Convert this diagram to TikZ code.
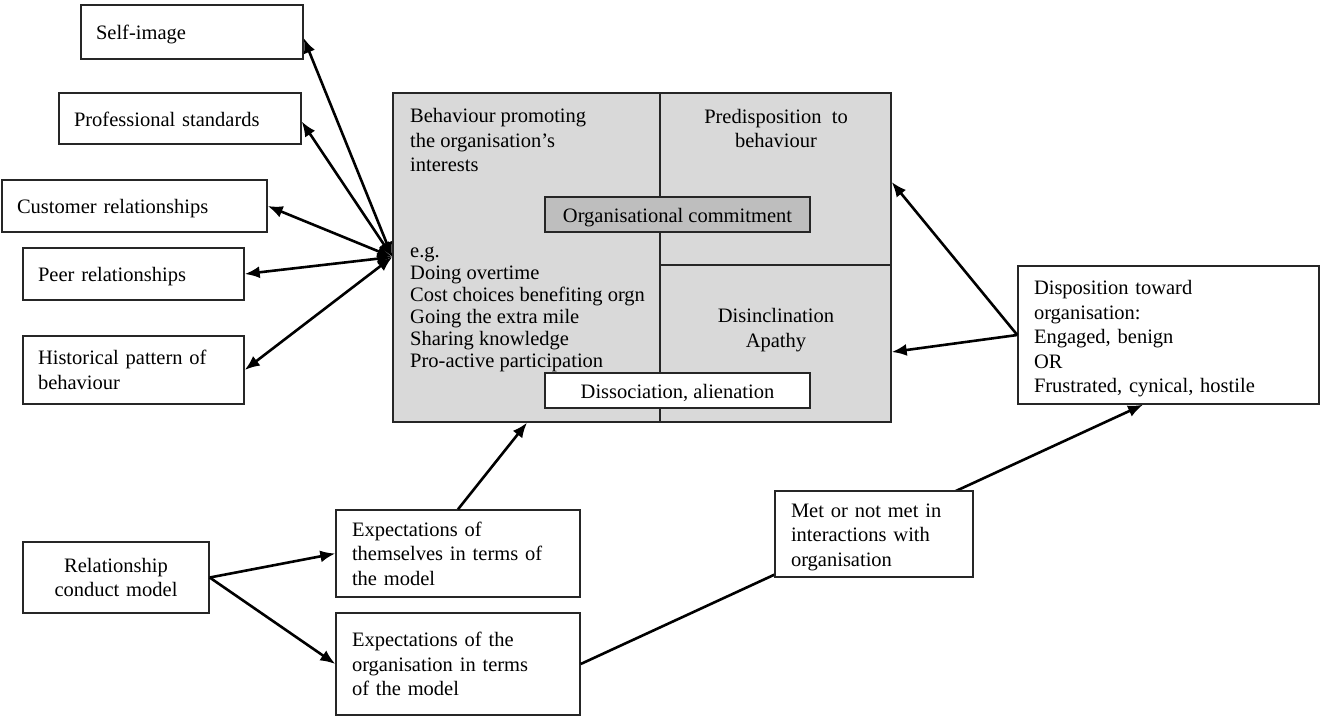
\documentclass[tikz,border=0pt]{standalone}
\usepackage{fontspec}
\setmainfont{Liberation Serif}
\usetikzlibrary{arrows.meta}
\definecolor{panelgray}{RGB}{217,217,217}
\definecolor{keygray}{RGB}{190,190,190}
\tikzset{
	every node/.style={font=\fontsize{20.5}{24.5}\selectfont},
	plainbox/.style={draw=black!85, line width=1.4pt, fill=white, inner xsep=15pt, inner ysep=0pt, align=left},
	oneline/.style={text height=17pt, text depth=2pt},
	flow/.style={line width=2.6pt, -{Latex[length=15pt,width=12pt]}},
	twoway/.style={line width=2.6pt, {Latex[length=15pt,width=12pt]}-{Latex[length=15pt,width=12pt]}},
}
\begin{document}
\begin{tikzpicture}[x=1pt,y=-1pt]
	\useasboundingbox (0,0) rectangle (1320,718);

	\node [plainbox, oneline, text width=192pt, minimum height=54pt] (selfimg) at (192,32) {Self-image};
	\node [plainbox, oneline, text width=212pt, minimum height=51pt] (prof) at (180,118.5) {Professional standards};
	\node [plainbox, oneline, text width=235pt, minimum height=52pt] (cust) at (134.5,206) {Customer relationships};
	\node [plainbox, oneline, text width=191pt, minimum height=52pt] (peer) at (133.5,274) {Peer relationships};
	\node [plainbox, text width=191pt, minimum height=68pt] (hist) at (133.5,370) {Historical pattern of\\behaviour};

	\node [draw=black!85, line width=1.4pt, fill=panelgray, minimum width=498pt, minimum height=329pt, inner sep=0pt] (panel) at (642,257.5) {};
	\draw [draw=black!85, line width=1.4pt] (panel.north -| 660,0) -- (panel.south -| 660,0);
	\draw [draw=black!85, line width=1.4pt] (660,265) -- (panel.east |- 0,265);
	\node [anchor=west, align=left, inner sep=0pt] (aimtext) at (410,140) {Behaviour promoting\\the organisation’s\\interests};
	\node [anchor=west, align=left, inner sep=0pt, font=\fontsize{20.5}{22}\selectfont] (egtext) at (410,309) {e.g.\\Doing overtime\\Cost choices benefiting orgn\\Going the extra mile\\Sharing knowledge\\Pro-active participation};
	\node [align=center, inner sep=0pt] (predtext) at (776,128.5) {Predisposition\ \ to\\behaviour};
	\node [align=center, inner sep=0pt] (distext) at (776,330) {Disinclination\\Apathy};
	\node [plainbox, oneline, align=center, fill=keygray, minimum width=265pt, minimum height=35pt, inner xsep=0pt] (commit) at (677.5,214.5) {Organisational commitment};
	\node [plainbox, oneline, align=center, minimum width=265pt, minimum height=35pt, inner xsep=0pt] (dissoc) at (677.5,390.5) {Dissociation, alienation};

	\node [plainbox, text width=269pt, minimum height=138pt, inner xsep=16pt] (disp) at (1168.5,335) {\rule{0pt}{22pt}Disposition toward\\organisation:\\Engaged, benign\\OR\\Frustrated, cynical, hostile};
	\node [plainbox, align=center, text width=156pt, minimum height=71pt] (rel) at (116,577.5) {Relationship\\conduct model};
	\node [plainbox, text width=212pt, minimum height=87pt, inner xsep=16pt] (selfexp) at (458,553.5) {Expectations of\\themselves in terms of\\the model};
	\node [plainbox, text width=212pt, minimum height=102pt, inner xsep=16pt] (orgexp) at (458,664) {Expectations of the\\organisation in terms\\of the model};

	\coordinate (hub) at (panel.west |- 0,257);
	\draw [twoway] (hub) -- ([yshift=-6pt]selfimg.east);
	\draw [twoway] (hub) -- ([yshift=-3pt]prof.east);
	\draw [twoway] (hub) -- (cust.east);
	\draw [twoway] (hub) -- (peer.east);
	\draw [twoway] (hub) -- (hist.east);
	\draw [flow] (disp.west) -- (panel.east |- 0,182);
	\draw [flow] (disp.west) -- (panel.east |- 0,352);
	\draw [flow] (rel.east) -- (selfexp.west);
	\draw [flow] (rel.east) -- (orgexp.west);
	\draw [flow] (selfexp.north) -- (panel.south -| 527,0);
	\draw [flow] (orgexp.east) -- ([xshift=-25.5pt]disp.south);

	\node [plainbox, text width=166pt, minimum height=86pt, inner xsep=16pt] (met) at (874,534) {\rule{0pt}{20pt}Met or not met in\\interactions with\\organisation};
\end{tikzpicture}
\end{document}
